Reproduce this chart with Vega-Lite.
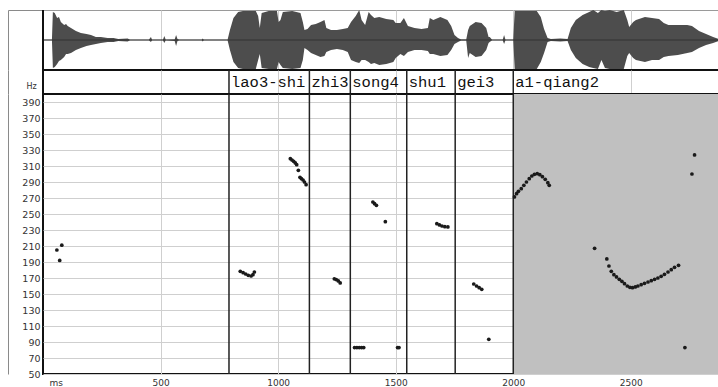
{
  "$schema": "https://vega.github.io/schema/vega-lite/v6.json",
  "background": "white",
  "padding": {"left": 7, "top": 8, "right": 0, "bottom": 0},
  "spacing": 0,
  "bounds": "flush",
  "resolve": {"scale": {"x": "independent", "y": "independent"}},
  "config": {
    "axis": {"labelFlush": false, "labelOverlap": false, "titleColor": "#333333"},
    "font": "DejaVu Sans"
  },
  "datasets": {
    "wave": [
      {"t": 0, "hi": 0.3, "lo": -0.3}, {"t": 38, "hi": 0.3, "lo": -0.3}, {"t": 42, "hi": 28, "lo": -28},
      {"t": 50, "hi": 27, "lo": -27}, {"t": 60, "hi": 22, "lo": -24}, {"t": 68, "hi": 23, "lo": -21}, {"t": 76, "hi": 18, "lo": -20},
      {"t": 90, "hi": 15, "lo": -17}, {"t": 98, "hi": 16, "lo": -14}, {"t": 105, "hi": 14, "lo": -14}, {"t": 119, "hi": 12, "lo": -13},
      {"t": 140, "hi": 9, "lo": -10}, {"t": 161, "hi": 7, "lo": -8}, {"t": 185, "hi": 6, "lo": -6},
      {"t": 204, "hi": 5, "lo": -5}, {"t": 225, "hi": 3, "lo": -4}, {"t": 246, "hi": 3, "lo": -3},
      {"t": 275, "hi": 2, "lo": -2}, {"t": 300, "hi": 2, "lo": -2}, {"t": 320, "hi": 1, "lo": -1},
      {"t": 360, "hi": 1.5, "lo": -1.5}, {"t": 370, "hi": 0.3, "lo": -0.3}, {"t": 450, "hi": 0.3, "lo": -0.3},
      {"t": 459, "hi": 3, "lo": -2}, {"t": 464, "hi": 0.3, "lo": -0.3}, {"t": 510, "hi": 0.3, "lo": -0.3},
      {"t": 516, "hi": 4, "lo": -3}, {"t": 522, "hi": 0.3, "lo": -0.3}, {"t": 560, "hi": 0.5, "lo": -1},
      {"t": 566, "hi": 5, "lo": -6}, {"t": 572, "hi": 1, "lo": -1}, {"t": 580, "hi": 0.3, "lo": -0.3},
      {"t": 675, "hi": 0.3, "lo": -0.3}, {"t": 679, "hi": 1.5, "lo": -1.5}, {"t": 684, "hi": 0.3, "lo": -0.3},
      {"t": 785, "hi": 0.3, "lo": -0.3}, {"t": 795, "hi": 10, "lo": -10}, {"t": 810, "hi": 22, "lo": -22},
      {"t": 830, "hi": 28, "lo": -28}, {"t": 850, "hi": 29, "lo": -29}, {"t": 905, "hi": 29, "lo": -29},
      {"t": 915, "hi": 24, "lo": -20}, {"t": 922, "hi": 12, "lo": -14}, {"t": 930, "hi": 27, "lo": -28},
      {"t": 960, "hi": 29, "lo": -29}, {"t": 995, "hi": 29, "lo": -29}, {"t": 1002, "hi": 18, "lo": -22},
      {"t": 1010, "hi": 20, "lo": -25}, {"t": 1020, "hi": 28, "lo": -28}, {"t": 1060, "hi": 29, "lo": -29},
      {"t": 1095, "hi": 27, "lo": -28}, {"t": 1105, "hi": 18, "lo": -20}, {"t": 1112, "hi": 10, "lo": -8},
      {"t": 1125, "hi": 11, "lo": -10}, {"t": 1140, "hi": 15, "lo": -13}, {"t": 1160, "hi": 16, "lo": -15},
      {"t": 1180, "hi": 18, "lo": -17}, {"t": 1197, "hi": 20, "lo": -16}, {"t": 1205, "hi": 12, "lo": -12},
      {"t": 1225, "hi": 10, "lo": -10}, {"t": 1250, "hi": 10, "lo": -9}, {"t": 1275, "hi": 11, "lo": -10},
      {"t": 1296, "hi": 12, "lo": -12}, {"t": 1310, "hi": 18, "lo": -20}, {"t": 1330, "hi": 24, "lo": -22},
      {"t": 1345, "hi": 30, "lo": -23}, {"t": 1355, "hi": 20, "lo": -20}, {"t": 1370, "hi": 15, "lo": -20},
      {"t": 1385, "hi": 28, "lo": -22}, {"t": 1395, "hi": 25, "lo": -24}, {"t": 1409, "hi": 22, "lo": -23},
      {"t": 1430, "hi": 23, "lo": -25}, {"t": 1460, "hi": 21, "lo": -24}, {"t": 1490, "hi": 20, "lo": -22},
      {"t": 1500, "hi": 17, "lo": -18}, {"t": 1520, "hi": 17, "lo": -14}, {"t": 1535, "hi": 22, "lo": -16},
      {"t": 1552, "hi": 14, "lo": -12}, {"t": 1580, "hi": 12, "lo": -10}, {"t": 1610, "hi": 11, "lo": -10},
      {"t": 1637, "hi": 12, "lo": -11}, {"t": 1645, "hi": 22, "lo": -14}, {"t": 1660, "hi": 20, "lo": -14},
      {"t": 1690, "hi": 23, "lo": -16}, {"t": 1720, "hi": 20, "lo": -15}, {"t": 1736, "hi": 14, "lo": -10},
      {"t": 1750, "hi": 5, "lo": -4}, {"t": 1765, "hi": 2, "lo": -2}, {"t": 1778, "hi": 0.5, "lo": -0.5},
      {"t": 1800, "hi": 0.5, "lo": -0.5}, {"t": 1808, "hi": 10, "lo": -18}, {"t": 1815, "hi": 14, "lo": -13},
      {"t": 1840, "hi": 18, "lo": -17}, {"t": 1865, "hi": 17, "lo": -16}, {"t": 1885, "hi": 12, "lo": -10},
      {"t": 1895, "hi": 3, "lo": -3}, {"t": 1900, "hi": 3, "lo": -2}, {"t": 1910, "hi": 0.3, "lo": -0.3},
      {"t": 1955, "hi": 0.3, "lo": -0.3}, {"t": 1961, "hi": 5, "lo": -4}, {"t": 1967, "hi": 0.3, "lo": -0.3},
      {"t": 2000, "hi": 0.3, "lo": -0.3}, {"t": 2006, "hi": 29, "lo": -29}, {"t": 2100, "hi": 29, "lo": -29},
      {"t": 2117, "hi": 23, "lo": -22}, {"t": 2131, "hi": 11, "lo": -13}, {"t": 2146, "hi": 2, "lo": -2},
      {"t": 2160, "hi": 1, "lo": -1}, {"t": 2200, "hi": 1.5, "lo": -1.5}, {"t": 2231, "hi": 1, "lo": -1},
      {"t": 2245, "hi": 12, "lo": -10}, {"t": 2266, "hi": 20, "lo": -18}, {"t": 2295, "hi": 25, "lo": -24},
      {"t": 2323, "hi": 28, "lo": -27}, {"t": 2340, "hi": 30, "lo": -28}, {"t": 2360, "hi": 27, "lo": -29},
      {"t": 2375, "hi": 30, "lo": -20}, {"t": 2390, "hi": 29, "lo": -28}, {"t": 2410, "hi": 30, "lo": -29},
      {"t": 2440, "hi": 28, "lo": -29}, {"t": 2470, "hi": 30, "lo": -29}, {"t": 2485, "hi": 20, "lo": -16},
      {"t": 2493, "hi": 13, "lo": -13}, {"t": 2510, "hi": 18, "lo": -18}, {"t": 2522, "hi": 20, "lo": -20},
      {"t": 2560, "hi": 23, "lo": -22}, {"t": 2590, "hi": 22, "lo": -20}, {"t": 2620, "hi": 21, "lo": -20},
      {"t": 2640, "hi": 17, "lo": -17}, {"t": 2660, "hi": 15, "lo": -16}, {"t": 2700, "hi": 15, "lo": -15},
      {"t": 2740, "hi": 15, "lo": -13}, {"t": 2760, "hi": 14, "lo": -12}, {"t": 2790, "hi": 9, "lo": -8},
      {"t": 2820, "hi": 6, "lo": -5}, {"t": 2850, "hi": 3, "lo": -3}, {"t": 2875, "hi": 1, "lo": -1}
    ],
    "segs": [
      {"label": "lao3-shi", "start": 791},
      {"label": "zhi3", "start": 1133},
      {"label": "song4", "start": 1307},
      {"label": "shu1", "start": 1547},
      {"label": "gei3", "start": 1753},
      {"label": "a1-qiang2", "start": 2000}
    ],
    "pitch": [
      {"t": 59, "hz": 205}, {"t": 80, "hz": 211}, {"t": 71, "hz": 192},
      {"t": 839, "hz": 178.4}, {"t": 851, "hz": 176.6}, {"t": 862, "hz": 175}, {"t": 873, "hz": 173.4},
      {"t": 885, "hz": 172.5}, {"t": 893, "hz": 174.1}, {"t": 899, "hz": 177.5},
      {"t": 1052, "hz": 319.2}, {"t": 1059, "hz": 317.5}, {"t": 1066, "hz": 315.8}, {"t": 1073, "hz": 313.8},
      {"t": 1079, "hz": 311.7}, {"t": 1086, "hz": 304.6}, {"t": 1093, "hz": 295.8}, {"t": 1099, "hz": 294.2},
      {"t": 1106, "hz": 292.5}, {"t": 1112, "hz": 290}, {"t": 1119, "hz": 286.7},
      {"t": 1239, "hz": 169}, {"t": 1247, "hz": 168}, {"t": 1256, "hz": 166.3}, {"t": 1264, "hz": 163.8},
      {"t": 1325, "hz": 83}, {"t": 1335, "hz": 83}, {"t": 1345, "hz": 83}, {"t": 1355, "hz": 83}, {"t": 1364, "hz": 83},
      {"t": 1403, "hz": 265}, {"t": 1410, "hz": 262.9}, {"t": 1418, "hz": 260.9}, {"t": 1456, "hz": 240.4},
      {"t": 1508, "hz": 83}, {"t": 1514, "hz": 83},
      {"t": 1675, "hz": 237.9}, {"t": 1686, "hz": 236.3}, {"t": 1697, "hz": 235}, {"t": 1709, "hz": 234.1}, {"t": 1722, "hz": 233.8},
      {"t": 1832, "hz": 162.5}, {"t": 1844, "hz": 160}, {"t": 1855, "hz": 157.9}, {"t": 1866, "hz": 155.9},
      {"t": 1896, "hz": 93.4},
      {"t": 2005, "hz": 271.3}, {"t": 2014, "hz": 275.4}, {"t": 2022, "hz": 278.4}, {"t": 2034, "hz": 281.6},
      {"t": 2045, "hz": 285.9}, {"t": 2056, "hz": 290}, {"t": 2068, "hz": 294.1}, {"t": 2079, "hz": 297.5},
      {"t": 2090, "hz": 299.6}, {"t": 2102, "hz": 300.4}, {"t": 2113, "hz": 299.1}, {"t": 2124, "hz": 296.6},
      {"t": 2136, "hz": 293.4}, {"t": 2147, "hz": 289.1}, {"t": 2153, "hz": 285.9},
      {"t": 2346, "hz": 207.1}, {"t": 2398, "hz": 193.8},
      {"t": 2407, "hz": 185}, {"t": 2417, "hz": 178.3}, {"t": 2428, "hz": 174.2}, {"t": 2439, "hz": 171.3},
      {"t": 2451, "hz": 168.3}, {"t": 2462, "hz": 165.8}, {"t": 2473, "hz": 162.9}, {"t": 2485, "hz": 160},
      {"t": 2496, "hz": 158.3}, {"t": 2507, "hz": 157.9}, {"t": 2519, "hz": 158.8}, {"t": 2530, "hz": 160},
      {"t": 2544, "hz": 161.6}, {"t": 2558, "hz": 163.3}, {"t": 2573, "hz": 165}, {"t": 2587, "hz": 166.7},
      {"t": 2601, "hz": 168.3}, {"t": 2615, "hz": 170}, {"t": 2629, "hz": 172.1}, {"t": 2643, "hz": 174.6},
      {"t": 2658, "hz": 177.5}, {"t": 2672, "hz": 180.4}, {"t": 2686, "hz": 183.4}, {"t": 2703, "hz": 185.9},
      {"t": 2730, "hz": 83}, {"t": 2760, "hz": 300}, {"t": 2771, "hz": 323.8}
    ]
  },
  "vconcat": [
    {
      "width": 676,
      "height": 60,
      "view": {"stroke": "#9a9a9a", "strokeWidth": 1},
      "layer": [
        {
          "data": {"name": "wave"},
          "mark": {"type": "area", "color": "#4d4d4d", "interpolate": "linear"},
          "encoding": {
            "x": {"field": "t", "type": "quantitative",
              "scale": {"domain": [0, 2875], "nice": false, "zero": false},
              "axis": {"values": [500, 1000, 1500, 2000, 2500], "grid": true, "gridColor": "#cfcfcf", "labels": false, "ticks": false, "domain": false, "title": null}},
            "y": {"field": "hi", "type": "quantitative",
              "scale": {"domain": [-30, 30], "nice": false, "zero": false},
              "axis": {"offset": 35, "domain": true, "domainColor": "#8a8a8a", "domainWidth": 1, "values": [30], "ticks": true, "tickSize": -35, "tickColor": "#8a8a8a", "tickWidth": 1, "labels": false, "grid": false, "title": null}},
            "y2": {"field": "lo"}
          }
        },
        {
          "data": {"values": [{}]},
          "mark": {"type": "rule", "color": "#333333", "strokeWidth": 1},
          "encoding": {"y": {"datum": 0}}
        },
        {
          "data": {"values": [{}]},
          "mark": {"type": "rule", "color": "#111111", "strokeWidth": 2},
          "encoding": {"x": {"datum": 0}}
        }
      ]
    },
    {
      "width": 676,
      "height": 24,
      "view": {"stroke": "#111111", "strokeWidth": 2},
      "data": {"name": "segs"},
      "layer": [
        {
          "mark": {"type": "rule", "color": "#222222", "strokeWidth": 1.5},
          "encoding": {
            "x": {"field": "start", "type": "quantitative",
              "scale": {"domain": [0, 2875], "nice": false, "zero": false},
              "axis": {"values": [500, 1000, 1500, 2000, 2500], "grid": true, "gridColor": "#cfcfcf", "labels": false, "ticks": false, "domain": false, "title": null}}
          }
        },
        {
          "mark": {"type": "text", "align": "left", "baseline": "middle", "dx": 2, "font": "Liberation Mono", "fontSize": 15.5, "color": "#111111"},
          "encoding": {
            "x": {"field": "start", "type": "quantitative"},
            "y": {"datum": 0.5, "type": "quantitative",
              "scale": {"domain": [0, 1], "nice": false, "zero": false},
              "axis": {"offset": 35, "domain": true, "domainColor": "#8a8a8a", "domainWidth": 1, "ticks": false, "labels": false, "grid": false, "title": null}},
            "text": {"field": "label"}
          }
        }
      ]
    },
    {
      "width": 676,
      "height": 280,
      "view": {"stroke": "#111111", "strokeWidth": 2},
      "layer": [
        {
          "data": {"values": [{"t0": 2000, "t1": 2875}]},
          "mark": {"type": "rect", "color": "#c0c0c0"},
          "encoding": {
            "x": {"field": "t0", "type": "quantitative",
              "scale": {"domain": [0, 2875], "nice": false, "zero": false},
              "axis": {"values": [500, 1000, 1500, 2000, 2500], "format": "d", "grid": true, "gridColor": "#cfcfcf", "ticks": false, "domain": false,
                "labelFont": "DejaVu Sans", "labelFontSize": 9, "labelColor": "#333333", "labelPadding": 4,
                "title": "ms", "titleX": 6, "titleY": 8, "titleAlign": "left", "titleBaseline": "middle",
                "titleFont": "DejaVu Sans", "titleFontSize": 9, "titleFontWeight": "normal", "titleColor": "#333333"}},
            "x2": {"field": "t1"}
          }
        },
        {
          "data": {"name": "segs"},
          "mark": {"type": "rule", "color": "#222222", "strokeWidth": 1.5},
          "encoding": {"x": {"field": "start", "type": "quantitative"}}
        },
        {
          "data": {"name": "pitch"},
          "mark": {"type": "circle", "color": "#1a1a1a", "size": 14, "opacity": 1},
          "encoding": {
            "x": {"field": "t", "type": "quantitative"},
            "y": {"field": "hz", "type": "quantitative",
              "scale": {"domain": [50, 400], "nice": false, "zero": false},
              "axis": {"values": [50, 70, 90, 110, 130, 150, 170, 190, 210, 230, 250, 270, 290, 310, 330, 350, 370, 390],
                "grid": true, "gridColor": "#cfcfcf", "offset": 35, "domain": true, "domainColor": "#8a8a8a", "domainWidth": 1,
                "ticks": false, "tickSize": 0, "labelPadding": -32,
                "labelFont": "DejaVu Sans", "labelFontSize": 9.5, "labelColor": "#333333",
                "title": "Hz", "titleAngle": 0, "titleX": 23, "titleY": -8, "titleAlign": "center", "titleBaseline": "middle",
                "titleFont": "DejaVu Sans", "titleFontSize": 8, "titleFontWeight": "normal", "titleColor": "#333333"}}
          }
        }
      ]
    }
  ]
}
